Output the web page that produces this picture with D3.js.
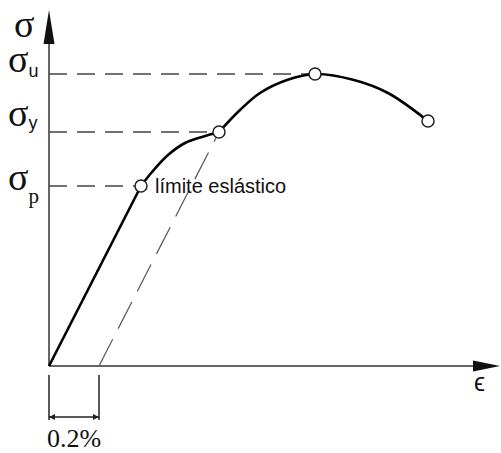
<!doctype html>
<html>
  <head>
    <meta charset="utf-8"/>
    <title>Diagrama esfuerzo-deformación</title>
    <style>
      body, html {
        padding: 0;
        margin: 0;
        border: 0;
        background: #fff;
      }
      .serif { font-family: "Liberation Serif", "DejaVu Serif", serif; }
      .sans { font-family: "Liberation Sans", Arial, sans-serif; }
    </style>
    <script src="https://d3js.org/d3.v7.min.js"></script>
  </head>
  <body>
    <svg id="chart" width="501" height="453"></svg>

    <script>
      // strain in %, stress in arbitrary units
      var elasticStrain = [0, 0.368];
      var elasticStress = [0, 180];
      var hardenStrain = [0.368, 0.412, 0.476, 0.544, 0.612, 0.68];
      var hardenStress = [180, 194, 211, 223, 229, 234];
      var neckStrain = [0.68, 0.764, 0.844, 0.952, 1.064, 1.22, 1.356, 1.516];
      var neckStress = [234, 256, 273, 286, 292, 286, 273, 245];

      var keyNames = ["p", "y", "u"];
      var keyStrain = [0.368, 0.68, 1.064];
      var keyStress = [180, 234, 292];
      var endStrain = 1.516, endStress = 245;

      var offset = 0.2; // 0.2% offset line
      var offsetLabel = "0.2%";
      var elasticLabel = "límite eslástico";

      var svg = d3.select("#chart");

      var ox = 49, oy = 366;
      var x = d3.scaleLinear().domain([0, 1.8]).range([ox, ox + 450]);
      var y = d3.scaleLinear().domain([0, 354]).range([oy, oy - 354]);

      // axes
      svg.append("line")
        .attr("x1", ox).attr("y1", oy).attr("x2", 480).attr("y2", oy)
        .attr("stroke", "#333").attr("stroke-width", 1.5);
      svg.append("line")
        .attr("x1", ox).attr("y1", oy).attr("x2", ox).attr("y2", 30)
        .attr("stroke", "#333").attr("stroke-width", 1.5);
      svg.append("path")
        .attr("d", "M" + ox + ",10 L" + (ox - 5.5) + ",44 L" + (ox + 5.5) + ",44 Z")
        .attr("fill", "#111");
      svg.append("path")
        .attr("d", "M500," + oy + " L473," + (oy - 5.5) + " L473," + (oy + 5.5) + " Z")
        .attr("fill", "#111");

      // dashed guides to the stress axis
      var keys = keyNames.map(function(n, i) { return { name: n, e: keyStrain[i], s: keyStress[i] }; });
      svg.selectAll(".guide")
        .data(keys)
        .enter().append("line")
          .attr("class", "guide")
          .attr("x1", ox).attr("x2", function(d) { return x(d.e); })
          .attr("y1", function(d) { return y(d.s); })
          .attr("y2", function(d) { return y(d.s); })
          .attr("stroke", "#444").attr("stroke-width", 1.4)
          .attr("stroke-dasharray", "18,10");

      // offset line parallel to elastic part
      var yk = keys[1];
      svg.append("line")
        .attr("x1", x(offset)).attr("y1", y(0))
        .attr("x2", x(yk.e)).attr("y2", y(yk.s))
        .attr("stroke", "#555").attr("stroke-width", 1.2)
        .attr("stroke-dasharray", "30,12");

      // stress-strain curve
      function zip(a, b) { return a.map(function(v, i) { return [v, b[i]]; }); }
      var line = d3.line()
        .x(function(d) { return x(d[0]); })
        .y(function(d) { return y(d[1]); });
      var smooth = d3.line()
        .x(function(d) { return x(d[0]); })
        .y(function(d) { return y(d[1]); })
        .curve(d3.curveCatmullRom.alpha(0.5));
      svg.append("path")
        .attr("d", line(zip(elasticStrain, elasticStress)))
        .attr("fill", "none").attr("stroke", "#000").attr("stroke-width", 2.6);
      [zip(hardenStrain, hardenStress), zip(neckStrain, neckStress)].forEach(function(p) {
        svg.append("path")
          .attr("d", smooth(p))
          .attr("fill", "none").attr("stroke", "#000").attr("stroke-width", 2.6);
      });

      // markers
      var marks = keys.concat([{ name: "end", e: endStrain, s: endStress }]);
      svg.selectAll(".pt")
        .data(marks)
        .enter().append("circle")
          .attr("class", "pt")
          .attr("cx", function(d) { return x(d.e); })
          .attr("cy", function(d) { return y(d.s); })
          .attr("r", 6)
          .attr("fill", "#fff").attr("stroke", "#222").attr("stroke-width", 1.5);

      // labels
      svg.append("text").attr("class", "serif")
        .attr("x", 14).attr("y", 37).attr("font-size", 38).attr("fill", "#111").text("σ");

      var labShift = { p: 4, y: -6, u: -2 };
      var lab = svg.selectAll(".slab")
        .data(keys)
        .enter().append("text")
          .attr("class", "serif slab")
          .attr("x", 8)
          .attr("y", function(d) { return y(d.s) + labShift[d.name]; })
          .attr("font-size", 38).attr("fill", "#111");
      lab.append("tspan").text("σ");
      lab.append("tspan")
        .attr("class", function(d) { return d.name === "p" ? "serif" : "sans"; })
        .attr("font-size", function(d) { return d.name === "p" ? 21 : 18; })
        .attr("dy", function(d) { return d.name === "y" ? 3 : (d.name === "u" ? 5 : 13); })
        .text(function(d) { return d.name; });

      svg.append("text").attr("class", "sans")
        .attr("x", x(keyStrain[0]) + 14).attr("y", y(keyStress[0]) + 7)
        .attr("font-size", 20).attr("fill", "#111").text(elasticLabel);

      svg.append("text").attr("class", "sans")
        .attr("x", 474).attr("y", 391).attr("font-size", 25).attr("fill", "#111").text("ϵ");

      // 0.2% dimension
      var dim = svg.append("g").attr("stroke", "#222").attr("stroke-width", 1.5);
      [0, offset].forEach(function(v) {
        dim.append("line").attr("x1", x(v)).attr("x2", x(v)).attr("y1", 375).attr("y2", 420);
      });
      dim.append("line").attr("x1", x(0)).attr("x2", x(offset)).attr("y1", 417).attr("y2", 417);
      svg.append("path")
        .attr("d", "M" + x(0) + ",417 l6,-3 l0,6 Z M" + x(offset) + ",417 l-6,-3 l0,6 Z")
        .attr("fill", "#222");
      svg.append("text").attr("class", "serif")
        .attr("x", (x(0) + x(offset)) / 2).attr("y", 447)
        .attr("text-anchor", "middle").attr("font-size", 26).attr("fill", "#111").text(offsetLabel);
    </script>
  </body>
</html>
